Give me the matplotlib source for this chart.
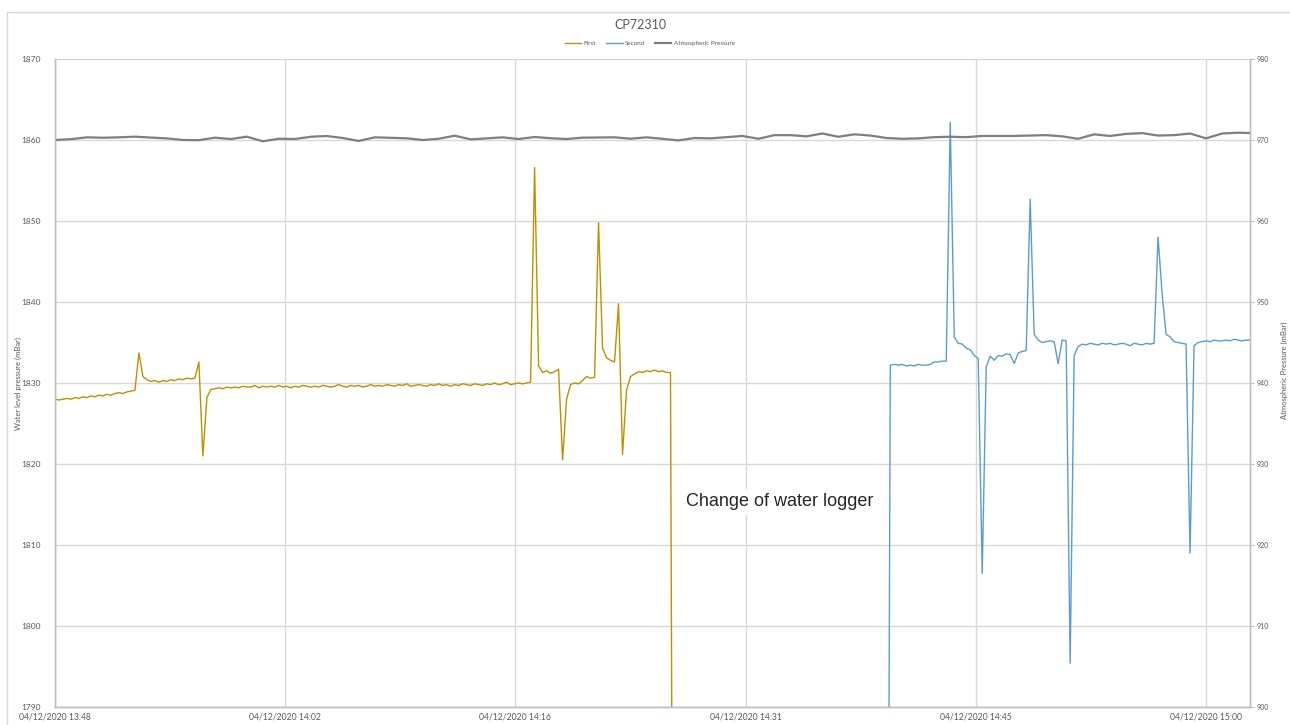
import matplotlib
matplotlib.use('Agg')
import matplotlib.pyplot as plt
import numpy as np
from matplotlib.lines import Line2D

plt.rcParams['font.family'] = ['Lato', 'DejaVu Sans']

# sample step of the water loggers (minutes) and atmospheric sensor (minutes)
logger_step = 0.25
atmos_step = 1.0

# first logger, starts at 13:48
first_start = 0
first_vals = [
    1828.0, 1827.9, 1828.0, 1828.1, 1828.0, 1828.2, 1828.1, 1828.3, 1828.2, 1828.4,
    1828.3, 1828.5, 1828.4, 1828.6, 1828.5, 1828.7, 1828.8, 1828.7, 1828.9, 1829.0,
    1829.1, 1833.7,
    1830.8, 1830.4, 1830.2, 1830.3, 1830.1, 1830.3, 1830.2, 1830.4, 1830.3, 1830.5,
    1830.4, 1830.6, 1830.5, 1830.6,
    1832.6, 1821.0, 1828.2,
    1829.2, 1829.3, 1829.4, 1829.3, 1829.5, 1829.4,
    1829.5, 1829.4, 1829.6, 1829.5, 1829.5, 1829.7, 1829.4, 1829.6, 1829.5, 1829.6,
    1829.5, 1829.7, 1829.5, 1829.6, 1829.4, 1829.6, 1829.5, 1829.7, 1829.6, 1829.5,
    1829.6, 1829.5, 1829.7, 1829.6, 1829.5, 1829.6, 1829.8, 1829.6, 1829.5, 1829.7,
    1829.6, 1829.7, 1829.5, 1829.6, 1829.8, 1829.6, 1829.7, 1829.6, 1829.8, 1829.7,
    1829.6, 1829.8, 1829.7, 1829.9, 1829.6, 1829.7, 1829.8, 1829.7, 1829.6, 1829.8,
    1829.7, 1829.9, 1829.7, 1829.8, 1829.6, 1829.8, 1829.7, 1829.9, 1829.8, 1829.7,
    1829.9, 1829.8, 1829.7, 1829.9, 1829.8, 1830.0, 1829.8, 1829.9, 1830.1, 1829.8,
    1829.9, 1830.0, 1829.9, 1830.0,
    1830.1, 1856.6,
    1832.1, 1831.3, 1831.5, 1831.2, 1831.4, 1831.7,
    1820.5,
    1828.0, 1829.8, 1830.0, 1829.9, 1830.3, 1830.8, 1830.6, 1830.7,
    1849.8,
    1834.3, 1833.1, 1832.8, 1832.6,
    1839.8, 1821.2,
    1829.1, 1830.8, 1831.1, 1831.4, 1831.3, 1831.5, 1831.4, 1831.6, 1831.4, 1831.5,
    1831.3, 1831.3,
    1700.0,
]

# second logger, put in after the change
second_start = 208
second_vals = [
    1700.0,
    1832.2, 1832.3, 1832.2, 1832.3, 1832.1, 1832.2, 1832.1, 1832.3, 1832.2, 1832.2, 1832.3,
    1832.6, 1832.6, 1832.7, 1832.7,
    1862.2,
    1835.7, 1834.9, 1834.8, 1834.3, 1834.1, 1833.4, 1833.0,
    1806.5,
    1832.0, 1833.3, 1832.8, 1833.4, 1833.3, 1833.6, 1833.5,
    1832.4,
    1833.7, 1833.9, 1834.0,
    1852.7,
    1836.0, 1835.3, 1835.0, 1835.1, 1835.2, 1835.1,
    1832.4,
    1835.3, 1835.2,
    1795.4,
    1833.4, 1834.5, 1834.8,
    1834.7, 1834.9, 1834.8, 1834.7, 1834.9, 1834.8, 1834.9, 1834.7, 1834.8, 1834.9,
    1834.8, 1834.6, 1834.9, 1834.8, 1834.7, 1834.9, 1834.8, 1834.9,
    1848.0, 1841.1,
    1836.0, 1835.7, 1835.1, 1835.0, 1834.9, 1834.8,
    1809.0,
    1834.6, 1835.0, 1835.1,
    1835.2, 1835.1, 1835.3, 1835.2, 1835.2, 1835.3, 1835.2, 1835.4, 1835.3, 1835.2,
    1835.3, 1835.3,
]

# atmospheric pressure, one reading per minute
atmos_vals = [
    970.00, 970.10, 970.33, 970.28, 970.33, 970.41, 970.30, 970.20, 970.00, 969.98,
    970.29, 970.12, 970.41, 969.84, 970.16, 970.12, 970.40, 970.49, 970.25, 969.88,
    970.33, 970.27, 970.21, 970.00, 970.15, 970.53, 970.08, 970.20, 970.33, 970.12,
    970.37, 970.22, 970.12, 970.29, 970.31, 970.33, 970.16, 970.33, 970.15, 969.95,
    970.25, 970.20, 970.35, 970.50, 970.15, 970.60, 970.60, 970.45, 970.80, 970.40,
    970.70, 970.55, 970.25, 970.15, 970.20, 970.35, 970.40, 970.35, 970.50, 970.50,
    970.50, 970.55, 970.60, 970.45, 970.15, 970.70, 970.50, 970.75, 970.85, 970.55,
    970.60, 970.80, 970.20, 970.80, 970.90, 970.85,
]

tick_pos = [0, 14.4, 28.8, 43.2, 57.6, 72.0]
tick_labels = ['04/12/2020 13:48', '04/12/2020 14:02', '04/12/2020 14:16',
               '04/12/2020 14:31', '04/12/2020 14:45', '04/12/2020 15:00']

x_first = (first_start + np.arange(len(first_vals))) * logger_step
x_second = (second_start + np.arange(len(second_vals))) * logger_step
x_atmos = np.arange(len(atmos_vals)) * atmos_step

fig = plt.figure(figsize=(12.9, 7.25), dpi=100)
W, H = 1290, 725
ax = fig.add_axes([55 / W, 1 - 707 / H, (1250 - 55) / W, (707 - 59) / H])
ax2 = ax.twinx()

grid_c = '#D9D9D9'
axis_c = '#BFBFBF'
text_c = '#595959'

l1, = ax.plot(x_first, first_vals, color='#BF9000', lw=1.0, label='First')
l2, = ax.plot(x_second, second_vals, color='#5B9BD5', lw=1.0, label='Second')
l3, = ax2.plot(x_atmos, atmos_vals, color='#7F7F7F', lw=1.6, label='Atmospheric Pressure')

ax.set_xlim(0, 74.75)
ax.set_ylim(1790, 1870)
ax.set_yticks(np.arange(1790, 1871, 10))
ax2.set_ylim(900, 980)
ax2.set_yticks(np.arange(900, 981, 10))

ax.set_xticks(tick_pos)
ax.set_xticklabels(tick_labels)
ax.grid(True, color=grid_c, lw=1.0)
ax.set_axisbelow(True)

ax.tick_params(axis='x', length=0, labelsize=6.2, labelcolor=text_c, pad=4)
ax.tick_params(axis='y', length=0, labelsize=6, labelcolor=text_c, pad=10)
ax2.tick_params(axis='y', direction='out', length=3, color=axis_c, labelsize=5,
                labelcolor=text_c, pad=2)

for a in (ax, ax2):
    a.spines['top'].set_visible(False)
    for s in ('left', 'right', 'bottom'):
        a.spines[s].set_color(axis_c)
        a.spines[s].set_linewidth(1.0)

ax.set_ylabel('Water level pressure (mBar)', fontsize=5.5, color=text_c)
ax.yaxis.set_label_coords((22 - 55) / 1195, 0.5)
ax2.set_ylabel('Atmospheric Pressure (mBar)', fontsize=5.5, color=text_c, rotation=90)
ax2.yaxis.set_label_coords((1281 - 55) / 1195, 0.52)

fig.text(640 / W, 1 - 25 / H, 'CP72310', ha='center', va='center', fontsize=9, color=text_c)
fig.legend(handles=[l1, l2, l3], loc='center', bbox_to_anchor=(650 / W, 1 - 43 / H),
           ncol=3, frameon=False, fontsize=4.5, labelcolor=text_c,
           handlelength=2.6, columnspacing=1.6, handletextpad=0.4)

fig.text(780 / W, 1 - 502 / H, 'Change of water logger', ha='center', va='center',
         fontsize=13, color='#262626', family=['Liberation Sans', 'DejaVu Sans'],
         bbox=dict(facecolor='white', edgecolor='none', pad=3))

# chart area border
fig.add_artist(Line2D([7 / W, 7 / W], [0, 1 - 12 / H], color=grid_c, lw=1.0))
fig.add_artist(Line2D([7 / W, 1], [1 - 12 / H, 1 - 12 / H], color=grid_c, lw=1.0))

fig.savefig('out.png', dpi=100)
